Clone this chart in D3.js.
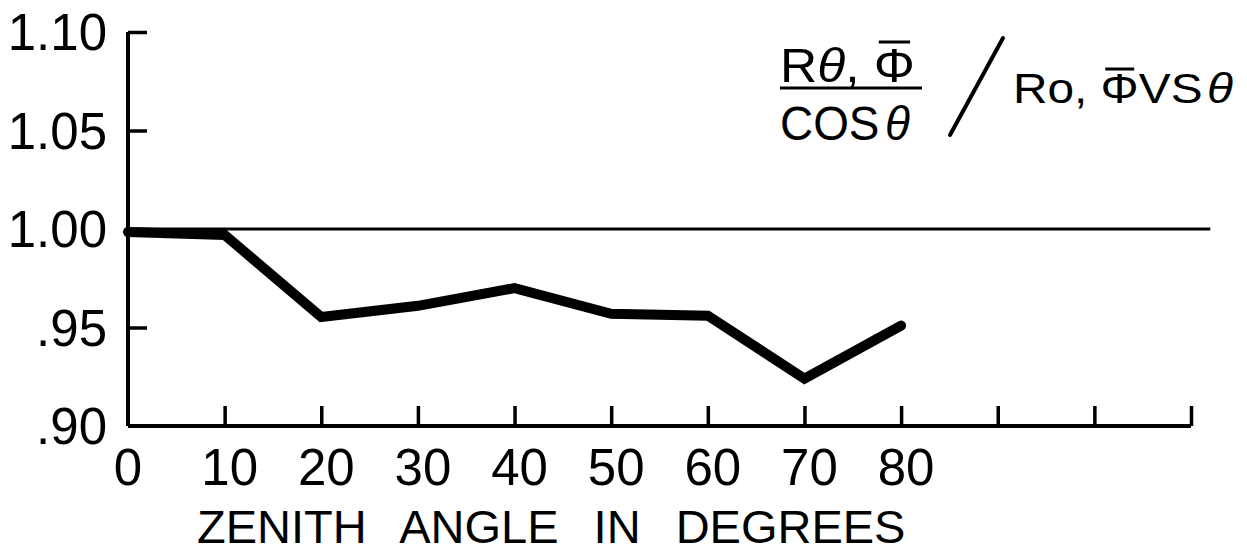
<!DOCTYPE html>
<html>
<head>
<meta charset="utf-8">
<script src="https://cdn.jsdelivr.net/npm/d3@7/dist/d3.min.js"></script>
<style>
  html, body { margin: 0; padding: 0; background: #fff; }
  svg { display: block; }
  text { font-family: "Liberation Sans", Arial, sans-serif; fill: #000; }
</style>
</head>
<body>
<svg id="chart" width="1247" height="554"></svg>
<script>
// ---- data ----
const angles = [0, 10, 20, 30, 40, 50, 60, 70, 80];
const ratios = [0.9985, 0.997, 0.9553, 0.961, 0.970, 0.957, 0.956, 0.924, 0.951];
const xTicks = [0, 10, 20, 30, 40, 50, 60, 70, 80, 90, 100, 110];
const xTickLabels = ["0", "10", "20", "30", "40", "50", "60", "70", "80"];
const yTicks = [0.90, 0.95, 1.00, 1.05, 1.10];
const yTickLabels = [".90", ".95", "1.00", "1.05", "1.10"];
const referenceValue = 1.00;
const referenceEnd = 112;
const xTitle = "ZENITH ANGLE IN DEGREES";

// ---- scales ----
const svg = d3.select("#chart");
const x = d3.scaleLinear().domain([0, 110]).range([128, 1191]);
const y = d3.scaleLinear().domain([0.90, 1.10]).range([426, 32]);

// ---- x axis ----
const xAxis = d3.axisBottom(x).tickValues(xTicks).tickSize(0).tickFormat("");
const gx = svg.append("g").attr("transform", `translate(0,${y(0.90)})`).call(xAxis);
gx.select(".domain").attr("stroke", "#000").attr("stroke-width", 4).attr("d", `M${x(0)},0H${x(110)}`);
gx.selectAll(".tick line")
  .filter(d => d !== 0)
  .attr("y2", -20).attr("stroke", "#000").attr("stroke-width", 3.5);
gx.selectAll(".tick").filter(d => d === 0).select("line").remove();
gx.selectAll(".tick text").remove();

svg.append("g").selectAll("text")
  .data(xTickLabels)
  .join("text")
  .attr("x", (d, i) => x(+d) + (i === 0 ? 0 : 5))
  .attr("y", y(0.90) + 59)
  .attr("text-anchor", "middle")
  .attr("font-size", 51)
  .text(d => d);

// ---- y axis ----
const yAxis = d3.axisLeft(y).tickValues(yTicks).tickSize(0).tickFormat("");
const gy = svg.append("g").attr("transform", `translate(${x(0)},0)`).call(yAxis);
gy.select(".domain").attr("stroke", "#000").attr("stroke-width", 4).attr("d", `M0,${y(1.10)}V${y(0.90)}`);
gy.selectAll(".tick line")
  .filter(d => d !== 0.90)
  .attr("x2", 19).attr("stroke", "#000").attr("stroke-width", 3.5);
gy.selectAll(".tick").filter(d => d === 0.90).select("line").remove();

svg.append("g").selectAll("text")
  .data(yTicks)
  .join("text")
  .attr("x", 107)
  .attr("y", d => y(d) + 18)
  .attr("text-anchor", "end")
  .attr("font-size", 51)
  .text((d, i) => yTickLabels[i]);

// ---- reference line at 1.00 ----
svg.append("line")
  .attr("x1", x(0)).attr("x2", x(referenceEnd))
  .attr("y1", y(referenceValue)).attr("y2", y(referenceValue))
  .attr("stroke", "#000").attr("stroke-width", 3);

// ---- data line ----
const pts = angles.map((a, i) => [a, ratios[i]]);
svg.append("path")
  .datum(pts)
  .attr("fill", "none")
  .attr("stroke", "#000")
  .attr("stroke-width", 10)
  .attr("stroke-linejoin", "miter")
  .attr("stroke-linecap", "round")
  .attr("d", d3.line().x(d => x(d[0])).y(d => y(d[1])));

// ---- x title ----
svg.append("text")
  .attr("x", 197).attr("y", 543)
  .attr("font-size", 47)
  .attr("word-spacing", 22)
  .text(xTitle);

// ---- legend / annotation ----
const leg = svg.append("g");
// numerator
const num = leg.append("text").attr("x", 780).attr("y", 82).attr("font-size", 49)
  .attr("textLength", 135).attr("lengthAdjust", "spacingAndGlyphs");
num.append("tspan").text("R");
num.append("tspan").attr("font-style", "italic").text("θ");
num.append("tspan").text(", ");
num.append("tspan").text("Φ");
// fraction bar
leg.append("line").attr("x1", 780).attr("x2", 922).attr("y1", 88).attr("y2", 88)
  .attr("stroke", "#000").attr("stroke-width", 3);
// denominator
const den = leg.append("text").attr("x", 780).attr("y", 140).attr("font-size", 49)
  .attr("textLength", 130).attr("lengthAdjust", "spacingAndGlyphs");
den.append("tspan").text("COS");
den.append("tspan").attr("font-style", "italic").attr("dx", 6).text("θ");
// slash
leg.append("line").attr("x1", 1003).attr("y1", 38).attr("x2", 950).attr("y2", 135)
  .attr("stroke", "#000").attr("stroke-width", 4).attr("stroke-linecap", "round");
// right part
const rt = leg.append("text").attr("x", 1013).attr("y", 103).attr("font-size", 42)
  .attr("textLength", 220).attr("lengthAdjust", "spacingAndGlyphs");
rt.append("tspan").text("Ro, ");
rt.append("tspan").text("Φ");
rt.append("tspan").text("VS");
rt.append("tspan").attr("font-style", "italic").attr("dx", 4).text("θ");

// overbars on Φ
function overbar(textSel, charIndex, dy) {
  const node = textSel.node();
  try {
    const ext = node.getExtentOfChar(charIndex);
    leg.append("line")
      .attr("x1", ext.x + ext.width * 0.12).attr("x2", ext.x + ext.width * 0.88)
      .attr("y1", ext.y + dy).attr("y2", ext.y + dy)
      .attr("stroke", "#000").attr("stroke-width", 3);
  } catch (e) {}
}
overbar(num, 4, 4);
overbar(rt, 4, 4);
</script>
</body>
</html>
